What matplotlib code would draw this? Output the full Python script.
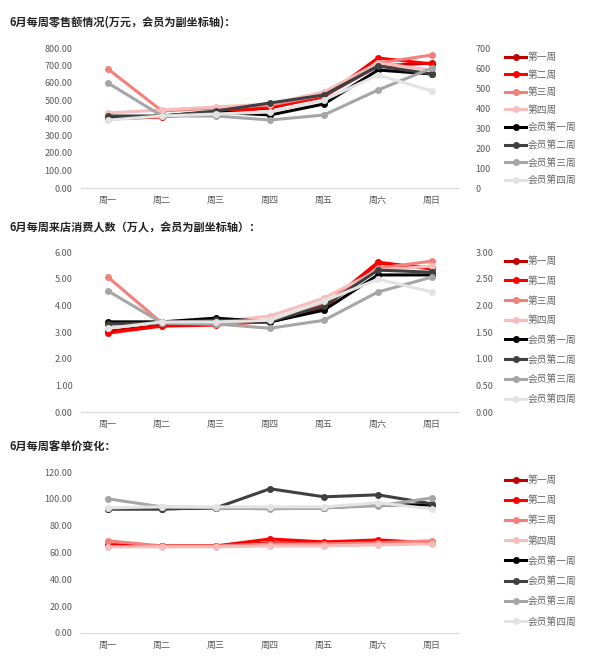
"""6月每周零售额、来店人数、客单价折线图。"""
import matplotlib
matplotlib.use('Agg')
import matplotlib.pyplot as plt
import matplotlib.ticker as ticker

plt.rcParams['font.family'] = ['Noto Sans CJK SC', 'DejaVu Sans']

days = ['周一', '周二', '周三', '周四', '周五', '周六', '周日']
weeks = ['第一周', '第二周', '第三周', '第四周']
member_weeks = ['会员第一周', '会员第二周', '会员第三周', '会员第四周']

# 零售额（万元），会员为副坐标轴
sales = [
    [400, 411, 434, 457, 526, 697, 714],
    [394, 406, 429, 463, 520, 743, 709],
    [680, 440, 457, 474, 531, 714, 760],
    [429, 446, 463, 480, 549, 714, 674],
]
member_sales = [
    [345, 360, 380, 365, 420, 590, 570],
    [360, 360, 385, 425, 465, 610, 570],
    [525, 360, 360, 340, 365, 490, 600],
    [340, 360, 370, 380, 440, 565, 485],
]

# 来店消费人数（万人），会员为副坐标轴
visitors = [
    [3.03, 3.26, 3.33, 3.37, 3.90, 5.58, 5.39],
    [2.96, 3.22, 3.26, 3.41, 3.97, 5.62, 5.36],
    [5.06, 3.33, 3.30, 3.45, 4.04, 5.39, 5.66],
    [3.15, 3.37, 3.37, 3.60, 4.27, 5.32, 5.47],
]
member_visitors = [
    [1.69, 1.69, 1.76, 1.69, 1.91, 2.57, 2.57],
    [1.65, 1.67, 1.72, 1.70, 1.99, 2.66, 2.62],
    [2.27, 1.67, 1.65, 1.57, 1.72, 2.25, 2.53],
    [1.57, 1.69, 1.69, 1.72, 2.08, 2.49, 2.25],
]

# 客单价
unit_price = [
    [65.7, 64.9, 64.9, 67.2, 67.2, 67.9, 67.2],
    [65.7, 64.9, 64.9, 70.1, 67.9, 69.4, 67.2],
    [68.7, 64.9, 64.9, 66.4, 66.4, 67.2, 68.7],
    [64.2, 64.2, 64.2, 64.9, 64.9, 65.7, 66.4],
]
member_unit_price = [
    [92.5, 92.5, 93.3, 93.3, 93.3, 95.5, 95.5],
    [92.5, 92.5, 93.3, 107.5, 101.5, 103.0, 96.3],
    [100.0, 94.0, 93.3, 92.5, 93.3, 94.8, 100.7],
    [93.3, 94.0, 94.0, 94.0, 94.0, 97.0, 92.5],
]

colors = ['#C00000', '#FF0000', '#F4807C', '#F7BDBD']
member_colors = ['#000000', '#404040', '#A6A6A6', '#E3E3E3']

W, H = 600, 659
TICK_COLOR = '#595959'


def px_axes(fig, x0, y0, x1, y1):
    """Axes from pixel box (top-left origin)."""
    return fig.add_axes([x0 / W, 1 - y1 / H, (x1 - x0) / W, (y1 - y0) / H])


def style_axis(ax, ylim, step):
    ax.set_xlim(-0.5, len(days) - 0.5)
    ax.set_ylim(*ylim)
    ax.yaxis.set_major_locator(ticker.MultipleLocator(step))
    ax.yaxis.set_major_formatter(ticker.FuncFormatter(lambda v, p: f'{v:.2f}'))
    for side in ['top', 'right', 'left']:
        ax.spines[side].set_visible(False)
    ax.spines['bottom'].set_color('#D9D9D9')
    ax.tick_params(length=0, labelsize=6.5, colors=TICK_COLOR, pad=6)
    ax.set_xticks(range(len(days)), days)


def draw_panel(fig, box, title, title_y, main, members, ylim, step,
               member_ylim=None, member_step=None, legend_top=0, spacing=1.0):
    ax = px_axes(fig, *box)
    style_axis(ax, ylim, step)
    fig.text(10 / W, 1 - title_y / H, title, fontsize=8, fontweight='bold',
             va='center', ha='left', color='#222222')

    lines = []
    for vals, c, name in zip(main, colors, weeks):
        l, = ax.plot(range(len(days)), vals, color=c, lw=2.2, marker='o',
                     ms=4, label=name, zorder=3)
        lines.append(l)

    if member_ylim is not None:
        ax2 = ax.twinx()
        ax2.set_ylim(*member_ylim)
        ax2.yaxis.set_major_locator(ticker.MultipleLocator(member_step))
        fmt = '{:.0f}' if member_step >= 1 else '{:.2f}'
        ax2.yaxis.set_major_formatter(ticker.FuncFormatter(lambda v, p: fmt.format(v)))
        for side in ['top', 'right', 'left', 'bottom']:
            ax2.spines[side].set_visible(False)
        ax2.tick_params(length=0, labelsize=6.5, colors=TICK_COLOR, pad=12)
        target = ax2
    else:
        target = ax

    for vals, c, name in zip(members, member_colors, member_weeks):
        l, = target.plot(range(len(days)), vals, color=c, lw=2.2, marker='o',
                         ms=4, label=name, zorder=4)
        lines.append(l)

    fig.legend(handles=lines, loc='upper left',
               bbox_to_anchor=(505 / W, 1 - legend_top / H), frameon=False,
               fontsize=7, labelcolor='#666666', handlelength=2.2,
               handletextpad=0.1, labelspacing=spacing, borderaxespad=0,
               borderpad=0)
    return ax


fig = plt.figure(figsize=(W / 100, H / 100), dpi=100)

draw_panel(fig, (81, 48, 459, 188), '6月每周零售额情况(万元，会员为副坐标轴)：', 22,
           sales, member_sales, (0, 800), 100,
           member_ylim=(0, 700), member_step=100, legend_top=52, spacing=0.78)

draw_panel(fig, (81, 252, 459, 412), '6月每周来店消费人数（万人，会员为副坐标轴）：', 227,
           visitors, member_visitors, (0, 6), 1,
           member_ylim=(0, 3), member_step=0.5, legend_top=256, spacing=1.0)

draw_panel(fig, (81, 472, 459, 633), '6月每周客单价变化：', 447,
           unit_price, member_unit_price, (0, 120), 20,
           legend_top=475, spacing=1.05)

fig.savefig('out.png', dpi=100)
